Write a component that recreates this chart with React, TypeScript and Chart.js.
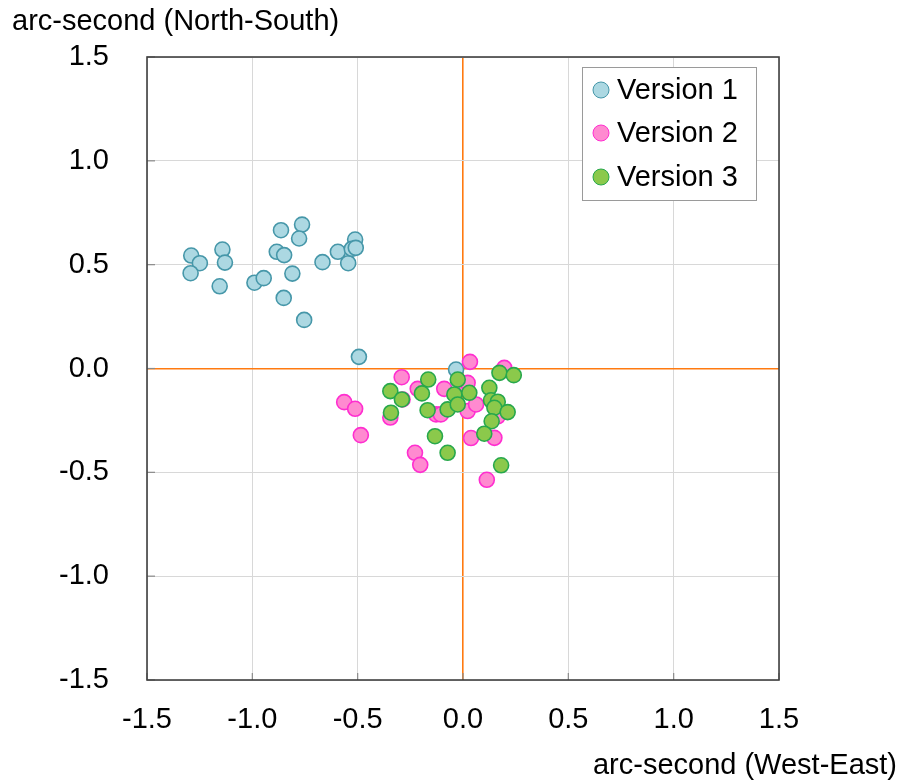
import React, { useEffect, useRef } from "react";
import { Chart, registerables } from "chart.js";

Chart.register(...registerables);

// ---- data (arc-seconds) ----
const v1X = [-1.29, -1.249, -1.293, -1.142, -1.13, -1.155, -0.99, -0.946, -0.864, -0.884, -0.849, -0.764, -0.778, -0.81, -0.851, -0.754, -0.667, -0.594, -0.545, -0.512, -0.528, -0.509, -0.494, -0.033];
const v1Y = [0.544, 0.507, 0.459, 0.573, 0.51, 0.396, 0.413, 0.435, 0.666, 0.562, 0.546, 0.693, 0.626, 0.457, 0.34, 0.234, 0.512, 0.562, 0.507, 0.621, 0.576, 0.581, 0.056, -0.005];

const v2X = [0.033, -0.291, -0.564, -0.512, -0.485, -0.215, -0.287, -0.345, -0.089, -0.128, -0.105, 0.017, 0.022, 0.062, -0.228, -0.203, 0.038, 0.149, 0.113, 0.196, 0.165, 0.022];
const v2Y = [0.032, -0.042, -0.162, -0.194, -0.321, -0.098, -0.149, -0.236, -0.098, -0.221, -0.221, -0.085, -0.205, -0.173, -0.406, -0.464, -0.335, -0.334, -0.536, 0.003, -0.23, -0.069];

const v3X = [-0.165, -0.025, -0.345, -0.29, -0.195, -0.342, -0.168, -0.073, -0.041, -0.025, 0.03, -0.133, -0.073, 0.173, 0.241, 0.125, 0.133, 0.165, 0.149, 0.212, 0.136, 0.101, 0.181];
const v3Y = [-0.053, -0.053, -0.109, -0.149, -0.12, -0.213, -0.201, -0.197, -0.125, -0.173, -0.117, -0.326, -0.406, -0.021, -0.032, -0.093, -0.153, -0.16, -0.189, -0.21, -0.254, -0.314, -0.466];

const seriesNames = ["Version 1", "Version 2", "Version 3"];
const tickValues = [-1.5, -1.0, -0.5, 0.0, 0.5, 1.0, 1.5];
const yTitle = "arc-second (North-South)";
const xTitle = "arc-second (West-East)";

const FONT = '"Liberation Sans", Arial, Helvetica, sans-serif';
const STYLES = [
  { fill: "#acd8e2", stroke: "#4697a9" },
  { fill: "#ff8ad0", stroke: "#ff2ed0" },
  { fill: "#8bc94b", stroke: "#27a84c" },
];

export default function App() {
  const ref = useRef<HTMLCanvasElement>(null);

  useEffect(() => {
    const canvas = ref.current;
    if (!canvas) return;
    const toPts = (xs: number[], ys: number[]) => xs.map((x, i) => ({ x, y: ys[i] }));
    const series = [toPts(v1X, v1Y), toPts(v2X, v2Y), toPts(v3X, v3Y)];

    const decor = {
      id: "decor",
      afterDraw(chart: any) {
        const { ctx, chartArea: a } = chart;
        const xs = chart.scales.x;
        const ys = chart.scales.y;
        ctx.save();
        // inward tick marks
        ctx.strokeStyle = "#8a8a8a";
        ctx.lineWidth = 1.2;
        tickValues.forEach((v) => {
          const px = xs.getPixelForValue(v);
          ctx.beginPath();
          ctx.moveTo(px, a.bottom);
          ctx.lineTo(px, a.bottom - 7);
          ctx.stroke();
          const py = ys.getPixelForValue(v);
          ctx.beginPath();
          ctx.moveTo(a.left, py);
          ctx.lineTo(a.left + 8, py);
          ctx.stroke();
        });
        // frame
        ctx.strokeStyle = "#404040";
        ctx.lineWidth = 1.6;
        ctx.strokeRect(a.left, a.top, a.right - a.left, a.bottom - a.top);
        // axis titles
        ctx.fillStyle = "#000";
        ctx.font = `29px ${FONT}`;
        ctx.textBaseline = "middle";
        ctx.textAlign = "left";
        ctx.fillText(yTitle, 12, 22);
        ctx.textAlign = "right";
        ctx.fillText(xTitle, 897, 766);
        // legend
        const lx = 582, ly = 67, lw = 174, lh = 133;
        ctx.fillStyle = "#fff";
        ctx.fillRect(lx, ly, lw, lh);
        ctx.strokeStyle = "#9a9a9a";
        ctx.lineWidth = 1;
        ctx.strokeRect(lx + 0.5, ly + 0.5, lw, lh);
        const rows = [90, 133, 177];
        seriesNames.forEach((name, i) => {
          const st = STYLES[i];
          ctx.beginPath();
          ctx.arc(601, rows[i], 8, 0, Math.PI * 2);
          ctx.fillStyle = st.fill;
          ctx.fill();
          ctx.lineWidth = 1;
          ctx.strokeStyle = st.stroke;
          ctx.stroke();
          ctx.fillStyle = "#000";
          ctx.textAlign = "left";
          ctx.textBaseline = "middle";
          ctx.font = `29px ${FONT}`;
          ctx.fillText(name, 617, rows[i] + 1);
        });
        ctx.restore();
      },
    };

    const gridColor = (c: any) => (c.tick && c.tick.value === 0 ? "#ff7a10" : "#d8d8d8");
    const gridWidth = (c: any) => (c.tick && c.tick.value === 0 ? 1.6 : 1);

    const chart = new Chart(canvas, {
      type: "scatter",
      data: {
        datasets: seriesNames.map((name, i) => ({
          label: name,
          data: series[i],
          backgroundColor: STYLES[i].fill,
          borderColor: STYLES[i].stroke,
          borderWidth: 1.6,
          pointRadius: 7.5,
          pointHoverRadius: 7.5,
          order: 2 - i,
        })),
      },
      options: {
        animation: false,
        responsive: false,
        events: [],
        layout: { padding: { top: 57, right: 127, left: 0, bottom: 0 } },
        plugins: {
          legend: { display: false },
          tooltip: { enabled: false },
          title: { display: false },
        },
        scales: {
          x: {
            type: "linear",
            min: -1.5,
            max: 1.5,
            afterBuildTicks: (s: any) => {
              s.ticks = tickValues.map((v) => ({ value: v }));
            },
            afterFit: (s: any) => {
              s.height = 104;
            },
            ticks: {
              padding: 23,
              color: "#000",
              font: { family: FONT, size: 29 },
              maxRotation: 0,
              autoSkip: false,
              callback: (v: any) => Number(v).toFixed(1),
            },
            grid: { color: gridColor, lineWidth: gridWidth, drawTicks: false },
            border: { display: false },
          },
          y: {
            type: "linear",
            min: -1.5,
            max: 1.5,
            afterBuildTicks: (s: any) => {
              s.ticks = tickValues.map((v) => ({ value: v }));
            },
            afterFit: (s: any) => {
              s.width = 147;
            },
            ticks: {
              padding: 38,
              color: "#000",
              font: { family: FONT, size: 29 },
              autoSkip: false,
              callback: (v: any) => Number(v).toFixed(1),
            },
            grid: { color: gridColor, lineWidth: gridWidth, drawTicks: false },
            border: { display: false },
          },
        },
      },
      plugins: [decor],
    } as any);

    return () => chart.destroy();
  }, []);

  return (
    <div style={{ position: "absolute", left: 0, top: 0, width: 906, height: 784, background: "#fff" }}>
      <canvas ref={ref} width={906} height={784} style={{ display: "block", width: 906, height: 784 }} />
    </div>
  );
}
